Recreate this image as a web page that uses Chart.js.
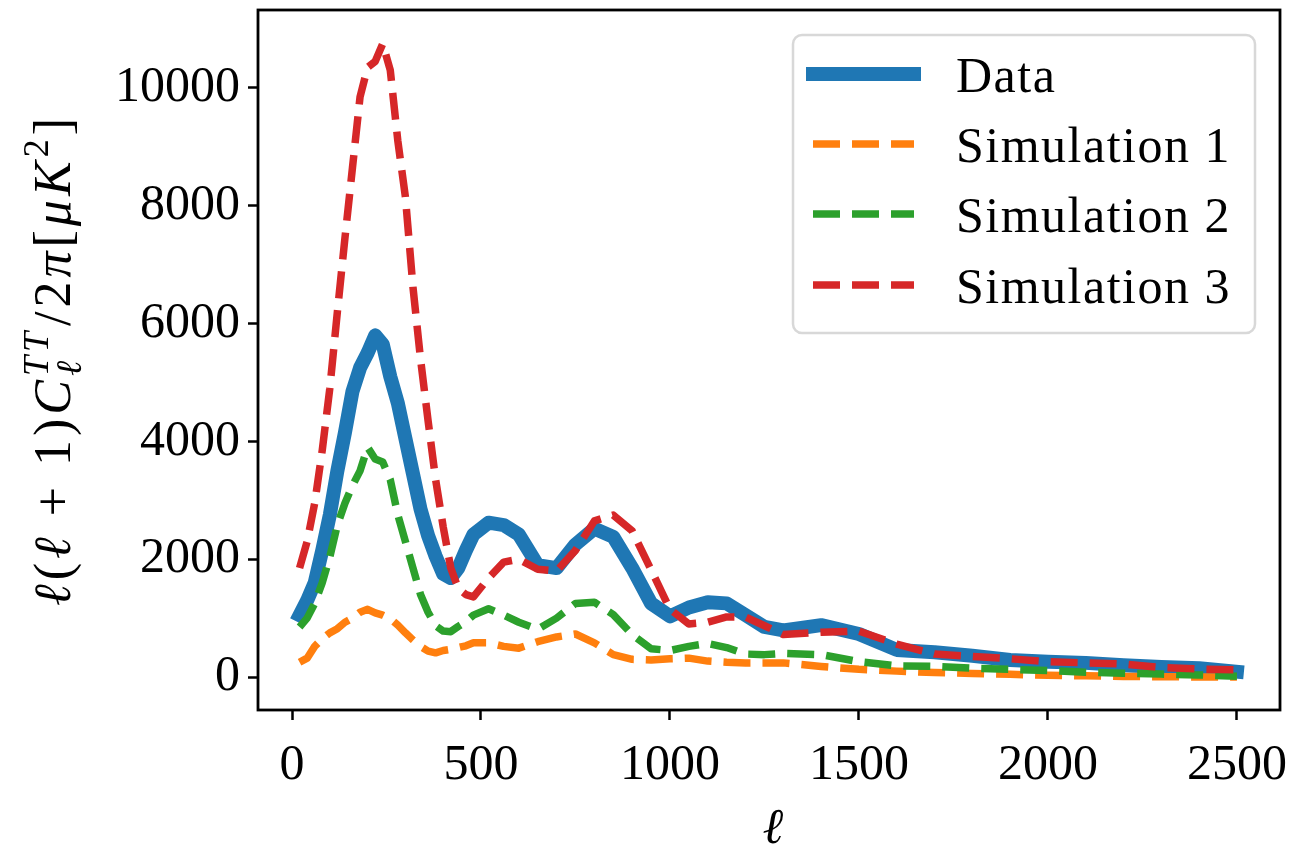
<!DOCTYPE html>
<html>
<head>
<meta charset="utf-8">
<script src="https://cdn.jsdelivr.net/npm/chart.js@4.4.0/dist/chart.umd.min.js"></script>
<style>
  html, body { margin: 0; padding: 0; background: #fff; }
</style>
</head>
<body>
<canvas id="spectrum" width="1294" height="850"></canvas>
<script>
// multipole grid shared by every curve
const ell = [20, 40, 60, 80, 100, 120, 140, 160, 180, 200, 220, 240, 260, 280, 300, 320, 340, 360, 380, 400, 420, 440, 460, 480,
  520, 560, 600, 650, 700, 750, 800, 850, 900, 950, 1000, 1050, 1100, 1150, 1200, 1250, 1300,
  1400, 1500, 1600, 1700, 1800, 1900, 2000, 2100, 2200, 2300, 2400, 2500];

// l(l+1) C_l^TT / 2pi  [uK^2]
const dataTT = [1050, 1300, 1600, 2150, 2750, 3500, 4150, 4850, 5250, 5500, 5800, 5650, 5100, 4650, 4050, 3450, 2850, 2400, 2050, 1750, 1680, 1850, 2150, 2420,
  2620, 2580, 2420, 1900, 1850, 2250, 2520, 2380, 1850, 1250, 1030, 1180, 1270, 1250, 1050, 850, 790,
  880, 730, 460, 420, 360, 290, 260, 240, 200, 170, 150, 90];
const sim1 = [250, 320, 520, 650, 750, 820, 930, 1000, 1100, 1150, 1090, 1050, 990, 880, 750, 630, 520, 440, 410, 450, 470, 500, 530, 580,
  580, 520, 490, 600, 680, 730, 580, 380, 300, 290, 310, 320, 270, 250, 240, 240, 240,
  180, 130, 100, 75, 60, 45, 30, 20, 10, 5, 0, 0];
const sim2 = [850, 1000, 1250, 1600, 2040, 2580, 2950, 3250, 3500, 3900, 3700, 3650, 3350, 2750, 2300, 1850, 1400, 1100, 870, 780, 770, 860, 940, 1050,
  1160, 1050, 930, 810, 1000, 1250, 1270, 1060, 720, 480, 450, 520, 570, 500, 390, 380, 400,
  380, 260, 190, 180, 150, 130, 110, 80, 65, 50, 35, 15];
const sim3 = [1850, 2300, 2950, 3850, 4900, 6200, 7450, 8650, 9850, 10350, 10450, 10750, 10300, 9100, 8150, 6620, 5400, 4350, 3350, 2550, 1850, 1500, 1400, 1360,
  1680, 1950, 2000, 1830, 1800, 2150, 2650, 2750, 2480, 1820, 1150, 900, 930, 1020, 1020, 870, 720,
  760, 780, 560, 390, 350, 310, 260, 240, 220, 160, 136, 120];

const seriesNames = ['Data', 'Simulation 1', 'Simulation 2', 'Simulation 3'];
const xTicks = [0, 500, 1000, 1500, 2000, 2500];
const yTicks = [0, 2000, 4000, 6000, 8000, 10000];

const SERIF = "'Liberation Serif', 'DejaVu Serif', serif";
const FS = 50;
const colors = ['#1f77b4', '#ff7f0e', '#2ca02c', '#d62728'];

const pts = vals => vals.map((v, i) => ({ x: ell[i], y: v }));

function dashed(label, vals, color, order) {
  return {
    label: label,
    data: pts(vals),
    borderColor: color,
    borderWidth: 7.5,
    borderDash: [27, 12],
    borderCapStyle: 'butt',
    borderJoinStyle: 'round',
    pointRadius: 0,
    tension: 0,
    order: order
  };
}

// text pieces with italics and scripts, drawn left to right
function fontOf(p, size) {
  return (p.i ? 'italic ' : '') + Math.round(size * (p.s || 1)) + 'px ' + SERIF;
}
function pieceWidth(ctx, p, size) {
  if (p.stack) {
    return Math.max(...p.stack.map(q => { ctx.font = fontOf(q, size); return ctx.measureText(q.t).width; })) + 2;
  }
  ctx.font = fontOf(p, size);
  return ctx.measureText(p.t).width;
}
function richWidth(ctx, parts, size) {
  return parts.reduce((w, p) => w + pieceWidth(ctx, p, size), 0);
}
function drawRich(ctx, parts, x, y, size) {
  parts.forEach(p => {
    const w = pieceWidth(ctx, p, size);
    (p.stack || [p]).forEach(q => {
      ctx.font = fontOf(q, size);
      ctx.fillText(q.t, x, y + (q.dy || 0));
    });
    x += w;
  });
}

const yLabelParts = [
  { t: 'ℓ', i: true }, { t: '(' }, { t: 'ℓ', i: true }, { t: ' + 1)' },
  { t: 'C', i: true },
  { stack: [{ t: 'ℓ', i: true, s: 0.7, dy: 11 }, { t: 'TT', i: true, s: 0.7, dy: -22 }] },
  { t: '/2' }, { t: 'π', i: true }, { t: '[' }, { t: 'μK', i: true },
  { t: '2', s: 0.7, dy: -22 }, { t: ']' }
];

const framePlugin = {
  id: 'frame',
  afterDatasetsDraw(chart) {
    const { ctx, chartArea: a } = chart;
    ctx.save();
    ctx.strokeStyle = '#000';
    ctx.lineWidth = 2.8;
    ctx.strokeRect(a.left, a.top, a.right - a.left, a.bottom - a.top);
    ctx.restore();
  }
};

const labelsPlugin = {
  id: 'axisLabels',
  afterDraw(chart) {
    const { ctx, chartArea: a } = chart;
    ctx.save();
    ctx.fillStyle = '#000';
    ctx.textBaseline = 'alphabetic';
    // x label
    ctx.font = 'italic ' + FS + 'px ' + SERIF;
    ctx.textAlign = 'center';
    ctx.fillText('ℓ', (a.left + a.right) / 2 + 4, 843);
    // y label, rotated
    ctx.textAlign = 'left';
    ctx.letterSpacing = '4px';
    const ys = 52;
    const w = richWidth(ctx, yLabelParts, ys);
    ctx.translate(70, (a.top + a.bottom) / 2);
    ctx.rotate(-Math.PI / 2);
    drawRich(ctx, yLabelParts, -w / 2, 0, ys);
    ctx.restore();
  }
};

const legendPlugin = {
  id: 'boxLegend',
  afterDraw(chart) {
    const ctx = chart.ctx;
    const bx = 793, by = 35, bw = 462, bh = 298;
    ctx.save();
    ctx.beginPath();
    ctx.roundRect(bx, by, bw, bh, 9);
    ctx.fillStyle = 'rgba(255,255,255,0.8)';
    ctx.fill();
    ctx.strokeStyle = '#d8d8d8';
    ctx.lineWidth = 2.5;
    ctx.stroke();

    const rows = [92, 162, 232, 303];
    chart.data.datasets.forEach((ds, i) => {
      const base = rows[i];
      const ly = base - 18;
      ctx.beginPath();
      ctx.moveTo(813, ly);
      ctx.lineTo(914, ly);
      ctx.strokeStyle = ds.borderColor;
      ctx.lineWidth = ds.borderWidth;
      ctx.lineCap = ds.borderCapStyle;
      ctx.setLineDash(ds.borderDash || []);
      ctx.stroke();
      ctx.setLineDash([]);
      ctx.fillStyle = '#000';
      ctx.font = FS + 'px ' + SERIF;
      ctx.letterSpacing = '1.5px';
      ctx.textAlign = 'left';
      ctx.textBaseline = 'alphabetic';
      ctx.fillText(ds.label, 956, base);
    });
    ctx.restore();
  }
};

const axisGrid = {
  display: true,
  drawOnChartArea: false,
  drawTicks: true,
  tickLength: 10,
  tickWidth: 2.5,
  tickColor: '#000'
};

new Chart(document.getElementById('spectrum').getContext('2d'), {
  type: 'line',
  data: {
    datasets: [
      {
        label: seriesNames[0],
        data: pts(dataTT),
        borderColor: colors[0],
        borderWidth: 14,
        borderCapStyle: 'square',
        borderJoinStyle: 'round',
        pointRadius: 0,
        tension: 0,
        order: 4
      },
      dashed(seriesNames[1], sim1, colors[1], 3),
      dashed(seriesNames[2], sim2, colors[2], 2),
      dashed(seriesNames[3], sim3, colors[3], 1)
    ]
  },
  options: {
    responsive: false,
    devicePixelRatio: 1,
    animation: false,
    layout: { padding: { top: 10, right: 14, left: 0, bottom: 0 } },
    plugins: { legend: { display: false }, tooltip: { enabled: false } },
    scales: {
      x: {
        type: 'linear',
        min: -90,
        max: 2614,
        afterBuildTicks: s => { s.ticks = xTicks.map(v => ({ value: v })); },
        afterFit: s => { s.height = 140; s.paddingLeft = 0; s.paddingRight = 0; },
        grid: axisGrid,
        border: { display: false },
        ticks: {
          color: '#000',
          font: { family: SERIF, size: FS },
          padding: 16,
          maxRotation: 0,
          autoSkip: false,
          callback: v => String(v)
        }
      },
      y: {
        type: 'linear',
        min: -560,
        max: 11324,
        afterBuildTicks: s => { s.ticks = yTicks.map(v => ({ value: v })); },
        afterFit: s => { s.width = 258; s.paddingTop = 0; s.paddingBottom = 0; },
        grid: axisGrid,
        border: { display: false },
        ticks: {
          color: '#000',
          font: { family: SERIF, size: FS },
          padding: 8,
          autoSkip: false,
          callback: v => String(v)
        }
      }
    }
  },
  plugins: [framePlugin, labelsPlugin, legendPlugin]
});
</script>
</body>
</html>
